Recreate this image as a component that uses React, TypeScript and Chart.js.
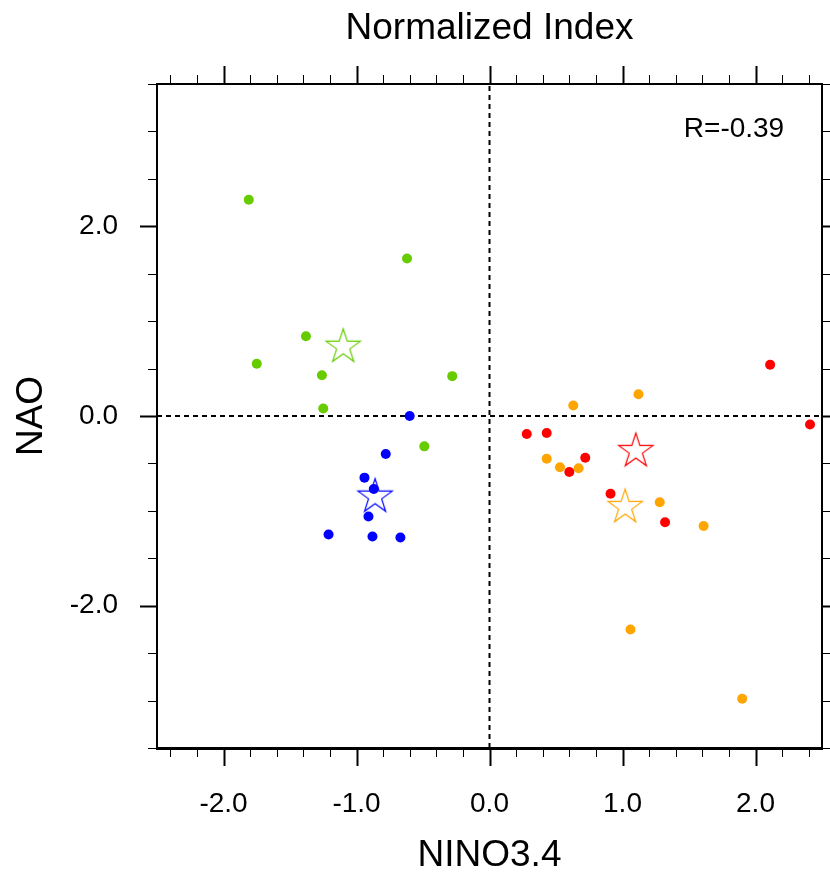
import React, { useEffect, useRef } from 'react';
import { Chart, registerables } from 'chart.js';

Chart.register(...registerables);

// ---- data ----
const greenX = [-1.81, -0.62, -1.38, -1.75, -1.26, -0.28, -1.25, -0.49];
const greenY = [2.28, 1.66, 0.84, 0.55, 0.43, 0.42, 0.08, -0.32];

const blueX = [-0.60, -0.78, -0.94, -0.87, -0.91, -1.21, -0.88, -0.67];
const blueY = [0.00, -0.40, -0.65, -0.77, -1.06, -1.25, -1.27, -1.28];

const redX = [2.11, 2.41, 0.28, 0.43, 0.60, 0.72, 0.91, 1.32];
const redY = [0.54, -0.09, -0.19, -0.18, -0.59, -0.44, -0.82, -1.12];

const orangeX = [1.12, 0.63, 0.43, 0.53, 0.67, 1.28, 1.61, 1.06, 1.90];
const orangeY = [0.23, 0.11, -0.45, -0.54, -0.55, -0.91, -1.16, -2.25, -2.98];

// group means (stars): green, blue, red, orange
const meanX = [-1.10, -0.86, 1.10, 1.02];
const meanY = [0.73, -0.85, -0.37, -0.96];

const groupColors = ['#66CC00', '#0000FF', '#FF0000', '#FFA500'];

const xTickValues = [-2, -1, 0, 1, 2];
const xTickLabels = ['-2.0', '-1.0', '0.0', '1.0', '2.0'];
const yTickValues = [-2, 0, 2];
const yTickLabels = ['-2.0', '0.0', '2.0'];

const titleText = 'Normalized Index';
const xTitle = 'NINO3.4';
const yTitle = 'NAO';
const corrText = 'R=-0.39';

const X_MIN = -2.5, X_MAX = 2.5, Y_MIN = -3.5, Y_MAX = 3.5;
const FONT = '"Liberation Sans", Arial, Helvetica, sans-serif';

function pts(xs: number[], ys: number[]) {
  return xs.map((x, i) => ({ x, y: ys[i] }));
}

function makeStar(color: string): HTMLCanvasElement {
  const c = document.createElement('canvas');
  c.width = 44;
  c.height = 44;
  const ctx = c.getContext('2d')!;
  const cx = 22, cy = 22, R = 18, r = 6.9;
  ctx.beginPath();
  for (let i = 0; i < 10; i++) {
    const rad = i % 2 === 0 ? R : r;
    const a = -Math.PI / 2 + (i * Math.PI) / 5;
    const px = cx + rad * Math.cos(a);
    const py = cy + rad * Math.sin(a);
    if (i === 0) ctx.moveTo(px, py);
    else ctx.lineTo(px, py);
  }
  ctx.closePath();
  ctx.strokeStyle = color;
  ctx.lineWidth = 1.2;
  ctx.stroke();
  return c;
}

const framePlugin = {
  id: 'ncl-frame',
  afterDraw(chart: any) {
    const { ctx, chartArea } = chart;
    const xs = chart.scales.x;
    const ys = chart.scales.y;
    const { left, right, top, bottom } = chartArea;
    ctx.save();
    ctx.strokeStyle = '#000';
    // x ticks every 0.2, majors at integers
    for (let i = -12; i <= 12; i++) {
      const v = i / 5;
      const px = Math.round(xs.getPixelForValue(v)) + 0.5;
      const major = i % 5 === 0;
      const len = major ? 18 : 9;
      ctx.lineWidth = major ? 2 : 1;
      ctx.beginPath();
      ctx.moveTo(px, bottom);
      ctx.lineTo(px, bottom + len);
      ctx.moveTo(px, top);
      ctx.lineTo(px, top - len);
      ctx.stroke();
    }
    // y ticks every 0.5, majors at -2, 0, 2
    for (let i = -7; i <= 7; i++) {
      const v = i / 2;
      const py = Math.round(ys.getPixelForValue(v)) + 0.5;
      const major = i % 4 === 0;
      const len = major ? 17 : 9;
      ctx.lineWidth = major ? 2 : 1;
      ctx.beginPath();
      ctx.moveTo(left, py);
      ctx.lineTo(left - len, py);
      ctx.moveTo(right, py);
      ctx.lineTo(right + len, py);
      ctx.stroke();
    }
    // frame
    ctx.lineWidth = 2;
    ctx.strokeRect(left, top, right - left, bottom - top);
    ctx.lineWidth = 3;
    ctx.beginPath();
    ctx.moveTo(left - 1, bottom + 0.5);
    ctx.lineTo(right + 1, bottom + 0.5);
    ctx.stroke();

    // texts
    ctx.fillStyle = '#000';
    ctx.textAlign = 'center';
    ctx.textBaseline = 'alphabetic';
    ctx.font = `37px ${FONT}`;
    ctx.fillText(titleText, (left + right) / 2, 39);
    ctx.fillText(xTitle, (left + right) / 2, 866);
    ctx.save();
    ctx.translate(42, (top + bottom) / 2);
    ctx.rotate(-Math.PI / 2);
    ctx.fillText(yTitle, 0, 0);
    ctx.restore();
    ctx.font = `28px ${FONT}`;
    ctx.fillText(corrText, 734, 137);
    ctx.restore();
  },
};

export default function App() {
  const ref = useRef<HTMLCanvasElement | null>(null);

  useEffect(() => {
    if (!ref.current) return;
    const stars = groupColors.map((c) => makeStar(c));
    const groups = [
      { xs: greenX, ys: greenY },
      { xs: blueX, ys: blueY },
      { xs: redX, ys: redY },
      { xs: orangeX, ys: orangeY },
    ];
    const datasets: any[] = [];
    groups.forEach((g, gi) => {
      datasets.push({
        type: 'scatter',
        data: pts(g.xs, g.ys),
        backgroundColor: groupColors[gi],
        borderWidth: 0,
        pointRadius: 5,
        pointHoverRadius: 5,
        order: 1,
      });
    });
    groupColors.forEach((c, gi) => {
      datasets.push({
        type: 'scatter',
        data: [{ x: meanX[gi], y: meanY[gi] }],
        pointStyle: stars[gi],
        pointRadius: 18,
        order: 0,
      });
    });
    // zero reference lines
    datasets.push({
      type: 'scatter',
      data: [{ x: 0, y: Y_MIN }, { x: 0, y: Y_MAX }],
      showLine: true,
      borderColor: '#000',
      borderWidth: 2,
      borderDash: [5, 4],
      pointRadius: 0,
      order: 5,
    });
    datasets.push({
      type: 'scatter',
      data: [{ x: X_MIN, y: 0 }, { x: X_MAX, y: 0 }],
      showLine: true,
      borderColor: '#000',
      borderWidth: 2,
      borderDash: [5, 4],
      pointRadius: 0,
      order: 5,
    });

    const chart = new Chart(ref.current, {
      type: 'scatter',
      data: { datasets },
      options: {
        responsive: false,
        animation: false,
        layout: { autoPadding: false, padding: { top: 84, right: 8, left: 0, bottom: 0 } },
        plugins: { legend: { display: false }, tooltip: { enabled: false }, title: { display: false } },
        scales: {
          x: {
            type: 'linear',
            min: X_MIN,
            max: X_MAX,
            grid: { display: false },
            border: { display: false },
            afterBuildTicks: (s: any) => {
              s.ticks = xTickValues.map((v) => ({ value: v }));
            },
            ticks: {
              autoSkip: false,
              maxRotation: 0,
              padding: 31,
              color: '#000',
              font: { family: FONT, size: 28 },
              callback: (v: any) => {
                const idx = xTickValues.indexOf(Number(v));
                return idx >= 0 ? xTickLabels[idx] : '';
              },
            },
            afterFit: (s: any) => {
              s.height = 125;
              s.paddingLeft = 0;
              s.paddingRight = 0;
            },
          },
          y: {
            type: 'linear',
            min: Y_MIN,
            max: Y_MAX,
            grid: { display: false },
            border: { display: false },
            afterBuildTicks: (s: any) => {
              s.ticks = yTickValues.map((v) => ({ value: v }));
            },
            ticks: {
              autoSkip: false,
              padding: 31,
              color: '#000',
              font: { family: FONT, size: 28 },
              callback: (v: any) => {
                const idx = yTickValues.indexOf(Number(v));
                return idx >= 0 ? yTickLabels[idx] : '';
              },
            },
            afterFit: (s: any) => {
              s.width = 157;
              s.paddingTop = 0;
              s.paddingBottom = 0;
            },
          },
        },
      },
      plugins: [framePlugin],
    });
    return () => chart.destroy();
  }, []);

  return (
    <div style={{ position: 'absolute', left: 0, top: 0, width: 830, height: 873, background: '#fff' }}>
      <canvas ref={ref} width={830} height={873} style={{ display: 'block' }} />
    </div>
  );
}
